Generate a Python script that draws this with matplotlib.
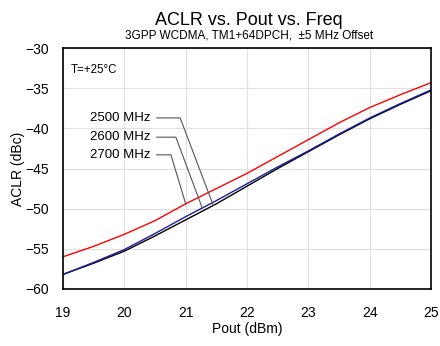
import matplotlib.pyplot as plt
import numpy as np

plt.rcParams['font.family'] = ['Liberation Sans', 'DejaVu Sans']

# Output power (dBm)
pout = [19, 19.5, 20, 20.5, 21, 21.5, 22, 22.5, 23, 23.5, 24, 24.5, 25]

# ACLR (dBc) per frequency
aclr_2500 = [-58.2, -56.8, -55.3, -53.4, -51.4, -49.4, -47.2, -45.0, -42.9, -40.8, -38.8, -37.0, -35.3]
aclr_2600 = [-58.2, -56.7, -55.1, -53.1, -51.0, -49.0, -46.9, -44.8, -42.8, -40.7, -38.7, -36.9, -35.2]
aclr_2700 = [-56.0, -54.7, -53.2, -51.5, -49.4, -47.5, -45.6, -43.5, -41.4, -39.3, -37.4, -35.8, -34.3]

labels = ['2500 MHz', '2600 MHz', '2700 MHz']
colors = ['black', '#1c1ca0', '#ff0000']

fig = plt.figure(figsize=(4.4, 3.46), dpi=100)
ax = fig.add_axes([0.143, 0.165, 0.837, 0.696])

series = [aclr_2500, aclr_2600, aclr_2700]
for vals, c in zip(series, colors):
    ax.plot(pout, vals, color=c, lw=1.0)

ax.set_xlim(19, 25)
ax.set_ylim(-60, -30)
ax.set_xticks(range(19, 26))
ax.set_yticks(range(-60, -29, 5))
ax.grid(True, color='#e0e0e0', lw=0.8)
ax.tick_params(length=0, labelsize=10)
ax.tick_params(axis='x', pad=12)
ax.tick_params(axis='y', pad=10)
for s in ax.spines.values():
    s.set_linewidth(1.2)

ax.set_xlabel('Pout (dBm)', fontsize=10, labelpad=2)
ax.set_ylabel('ACLR (dBc)', fontsize=10, labelpad=0.5)

fig.text(0.565, 0.94, 'ACLR vs. Pout vs. Freq', ha='center', va='center', fontsize=13)
fig.text(0.565, 0.896, '3GPP WCDMA, TM1+64DPCH,  \u00b15 MHz Offset', ha='center', va='center', fontsize=8.5)

ax.text(19.12, -32.7, 'T=+25\u00b0C', fontsize=8.3, va='center')

# leader annotations
text_y = [-38.7, -41.1, -43.3]
corner_x = [20.91, 20.84, 20.76]
end_x = [21.45, 21.27, 21.0]
for lab, vals, ty, cx, ex in zip(labels, series, text_y, corner_x, end_x):
    ey = np.interp(ex, pout, vals)
    ax.text(20.43, ty, lab, ha='right', va='center', fontsize=9.5)
    ax.plot([20.53, cx, ex], [ty, ty, ey], color='#555555', lw=0.8)

fig.savefig('out.png', dpi=100)
